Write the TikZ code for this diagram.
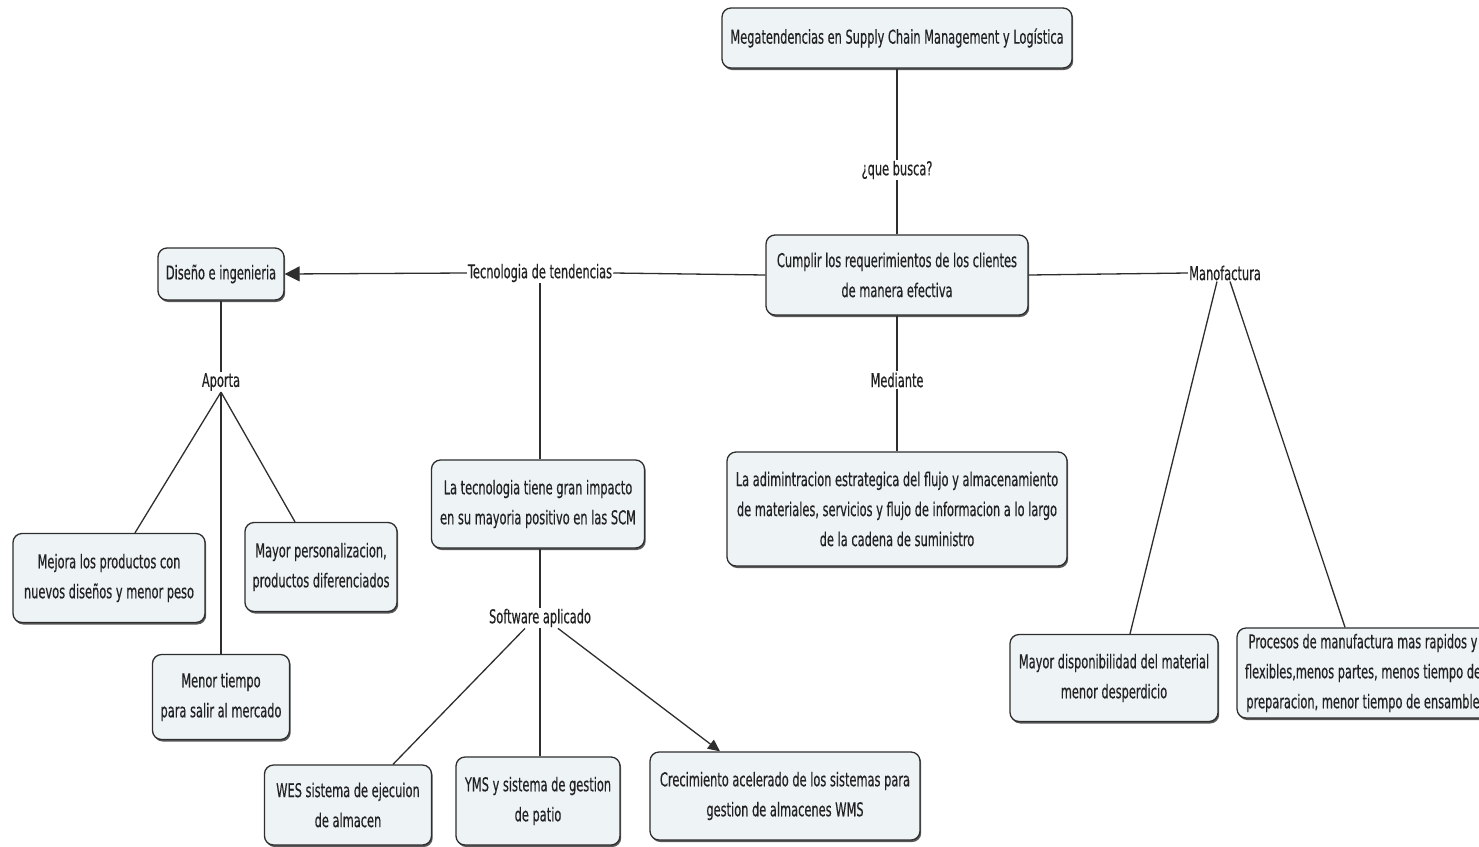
\documentclass[tikz,border=0pt]{standalone}
\usepackage{fontspec}
\setmainfont{DejaVu Sans}[FakeStretch=0.6, FakeBold=0.4]
\usetikzlibrary{arrows.meta,shadows,calc}
\definecolor{boxfill}{HTML}{EEF3F6}
\definecolor{edge}{HTML}{2E2E2E}
\definecolor{ink}{HTML}{222222}
\tikzset{
  concept/.style={draw=edge, line width=1.3pt, rounded corners=9pt, fill=boxfill,
    align=center, text=ink, inner sep=0pt,
    font=\fontsize{19}{30}\selectfont,
    drop shadow={shadow xshift=1.2pt, shadow yshift=-2pt, fill=black!65, opacity=1}},
  linkword/.style={fill=white, text=ink, inner sep=1pt, font=\fontsize{19}{30}\selectfont},
  link/.style={draw=edge, line width=1.3pt},
  bigtip/.style={-{Triangle[length=15pt,width=15pt]}},
  smalltip/.style={-{Triangle[length=12pt,width=11pt]}}
}
\begin{document}
\begin{tikzpicture}[x=1pt,y=-1pt]
\useasboundingbox (0,0) rectangle (1479,846);
\fill[white] (0,0) rectangle (1479,846);

% concepts
\node[concept, minimum width=350, minimum height=60] (top) at (897,38)
  {Megatendencias en Supply Chain Management y Logística};
\node[concept, minimum width=262, minimum height=80] (cumplir) at (897,275)
  {Cumplir los requerimientos de los clientes\\de manera efectiva};
\node[concept, minimum width=340, minimum height=114] (admin) at (897,509)
  {La adimintracion estrategica del flujo y almacenamiento\\de materiales, servicios y flujo de informacion a lo largo\\de la cadena de suministro};
\node[concept, minimum width=126, minimum height=52] (diseno) at (221,274)
  {Diseño e ingenieria};
\node[concept, minimum width=192, minimum height=89] (mejora) at (109,578)
  {Mejora los productos con\\nuevos diseños y menor peso};
\node[concept, minimum width=152, minimum height=89] (personal) at (321,567)
  {Mayor personalizacion,\\productos diferenciados};
\node[concept, minimum width=137, minimum height=85] (menor) at (221,697)
  {Menor tiempo\\para salir al mercado};
\node[concept, minimum width=213, minimum height=88] (tecno) at (538,504)
  {La tecnologia tiene gran impacto\\en su mayoria positivo en las SCM};
\node[concept, minimum width=167, minimum height=80] (wes) at (348,805)
  {WES sistema de ejecuion\\de almacen};
\node[concept, minimum width=164, minimum height=88] (yms) at (538,801)
  {YMS y sistema de gestion\\de patio};
\node[concept, minimum width=270, minimum height=88] (crec) at (785,796)
  {Crecimiento acelerado de los sistemas para\\gestion de almacenes WMS};
\node[concept, minimum width=208, minimum height=87] (disp) at (1114,678)
  {Mayor disponibilidad del material\\menor desperdicio};
\node[concept, minimum width=252, minimum height=90] (procesos) at (1363,673)
  {Procesos de manufactura mas rapidos y\\flexibles,menos partes, menos tiempo de\\preparacion, menor tiempo de ensamble};

% linking words
\node[linkword] (busca) at (897,170) {¿que busca?};
\node[linkword] (mediante) at (897,380) {Mediante};
\node[linkword] (tend) at (540,273) {Tecnologia de tendencias};
\node[linkword] (aporta) at (221,382) {Aporta};
\node[linkword] (soft) at (540,618) {Software aplicado};
\node[linkword] (manof) at (1225,273) {Manofactura};

% connectors
\draw[link] (top) -- (busca) -- (cumplir);
\draw[link] (cumplir) -- (mediante) -- (admin);
\draw[link] (cumplir.west) -- (tend.east);
\draw[link, bigtip] (tend.west) -- (diseno.east);
\draw[link] (tend.south) -- (tend.south |- tecno.north);
\draw[link] (tecno.south -| soft.north) -- (soft.north);
\draw[link] (diseno) -- (aporta);
\draw[link] (aporta.south) -- ($(mejora.north)+(26,0)$);
\draw[link] (aporta.south) -- (aporta.south |- menor.north);
\draw[link] (aporta.south) -- ($(personal.north)+(-26,0)$);
\draw[link] ($(soft.south)+(-15,0)$) -- ($(wes.north)+(45,0)$);
\draw[link] (soft.south) -- (soft.south |- yms.north);
\draw[link, smalltip] ($(soft.south)+(18,0)$) -- ($(crec.north)+(-65,0)$);
\draw[link] (cumplir.east) -- (manof.west);
\draw[link] ($(manof.south)+(-8,0)$) -- ($(disp.north)+(16,0)$);
\draw[link] ($(manof.south)+(5,0)$) -- ($(procesos.north)+(-18,0)$);
\end{tikzpicture}
\end{document}
